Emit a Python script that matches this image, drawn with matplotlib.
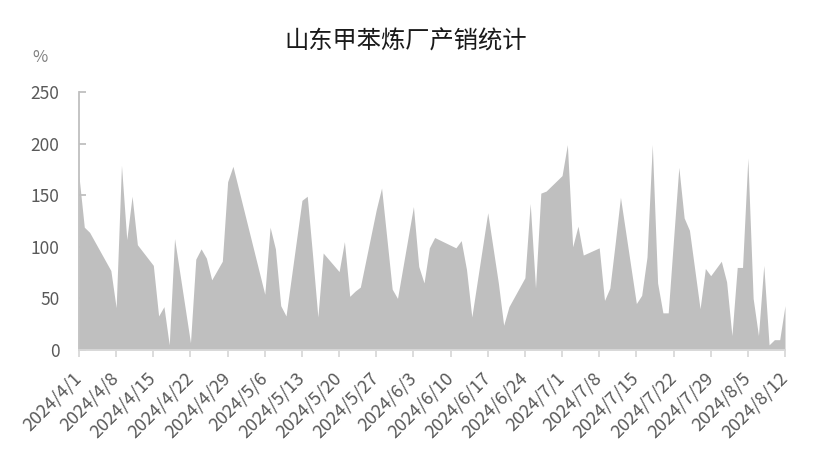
import matplotlib
matplotlib.use("Agg")
import matplotlib.pyplot as plt
import pandas as pd

plt.rcParams['font.family'] = ['Noto Sans CJK SC', 'DejaVu Sans']

# 山东甲苯炼厂产销率 (%)
dates = [
    "2024-04-01", "2024-04-02", "2024-04-03", "2024-04-07", "2024-04-08", "2024-04-09",
    "2024-04-10", "2024-04-11", "2024-04-12", "2024-04-15", "2024-04-16", "2024-04-17",
    "2024-04-18", "2024-04-19", "2024-04-22", "2024-04-23", "2024-04-24", "2024-04-25",
    "2024-04-26", "2024-04-28", "2024-04-29", "2024-04-30", "2024-05-06", "2024-05-07",
    "2024-05-08", "2024-05-09", "2024-05-10", "2024-05-13", "2024-05-14", "2024-05-15",
    "2024-05-16", "2024-05-17", "2024-05-20", "2024-05-21", "2024-05-22", "2024-05-23",
    "2024-05-24", "2024-05-27", "2024-05-28", "2024-05-29", "2024-05-30", "2024-05-31",
    "2024-06-03", "2024-06-04", "2024-06-05", "2024-06-06", "2024-06-07", "2024-06-11",
    "2024-06-12", "2024-06-13", "2024-06-14", "2024-06-17", "2024-06-18", "2024-06-19",
    "2024-06-20", "2024-06-21", "2024-06-24", "2024-06-25", "2024-06-26", "2024-06-27",
    "2024-06-28", "2024-07-01", "2024-07-02", "2024-07-03", "2024-07-04", "2024-07-05",
    "2024-07-08", "2024-07-09", "2024-07-10", "2024-07-11", "2024-07-12", "2024-07-15",
    "2024-07-16", "2024-07-17", "2024-07-18", "2024-07-19", "2024-07-20", "2024-07-21",
    "2024-07-22", "2024-07-23", "2024-07-24", "2024-07-25", "2024-07-27", "2024-07-28",
    "2024-07-29", "2024-07-30", "2024-07-31", "2024-08-01", "2024-08-02", "2024-08-03",
    "2024-08-04", "2024-08-05", "2024-08-06", "2024-08-07", "2024-08-08", "2024-08-09",
    "2024-08-10", "2024-08-11", "2024-08-12",
]
values = [
    168, 119, 114, 77, 41, 179,
    107, 149, 102, 82, 33, 42,
    5, 108, 7, 88, 98, 89,
    68, 86, 163, 178, 54, 119,
    98, 43, 33, 145, 149, 92,
    32, 94, 76, 105, 52, 57,
    61, 136, 157, 108, 59, 50,
    139, 81, 65, 99, 109, 99,
    106, 78, 32, 133, 99, 65,
    24, 42, 70, 142, 60, 152,
    154, 169, 199, 100, 120, 92,
    99, 48, 60, 103, 148, 45,
    53, 90, 199, 65, 36, 36,
    107, 177, 128, 116, 40, 79,
    72, 79, 86, 66, 14, 80,
    80, 186, 50, 14, 82, 5,
    10, 10, 43,
]

title = "山东甲苯炼厂产销统计"
unit = "%"
x_start, x_end = "2024-04-01", "2024-08-12"
y_ticks = [0, 50, 100, 150, 200, 250]

x = pd.to_datetime(dates)
tick_dates = pd.date_range(x_start, x_end, freq="7D")
tick_labels = [f"{d.year}/{d.month}/{d.day}" for d in tick_dates]

fig = plt.figure(figsize=(8.15, 4.61), dpi=100)
ax = fig.add_axes([79 / 815, 1 - 350 / 461, 706 / 815, 258 / 461])

ax.fill_between(x, 0, values, color="#bfbfbf", linewidth=0)

ax.set_xlim(pd.Timestamp(x_start), pd.Timestamp(x_end))
ax.set_ylim(0, 250)
ax.set_yticks(y_ticks)
ax.set_xticks(tick_dates)
ax.set_xticklabels(tick_labels, rotation=45, ha="right", va="center",
                   rotation_mode="anchor")

for s in ["top", "right"]:
    ax.spines[s].set_visible(False)
ax.spines["left"].set_color("#bfbfbf")
ax.spines["left"].set_linewidth(1.3)
ax.spines["bottom"].set_color("#d9d9d9")
ax.spines["bottom"].set_linewidth(1.3)

ax.tick_params(axis="y", direction="in", length=5, width=1.3, color="#bfbfbf",
               labelsize=12.5, labelcolor="#595959", pad=14)
ax.tick_params(axis="x", direction="out", length=5, width=1.3, color="#d9d9d9",
               labelsize=13, labelcolor="#595959", pad=13)

fig.text(406 / 815, 1 - 42 / 461, title, ha="center", va="center",
         fontsize=17.5, color="#1a1a1a")
fig.text(40 / 815, 1 - 58 / 461, unit, ha="center", va="center",
         fontsize=12, color="#808080")

fig.savefig("out.png", dpi=100)
